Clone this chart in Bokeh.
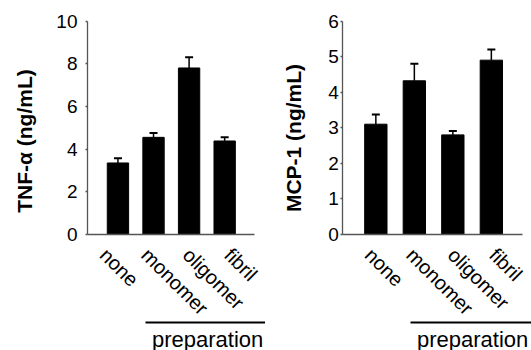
import math
from bokeh.plotting import figure
from bokeh.layouts import row
from bokeh.models import ColumnDataSource, Range1d, LinearAxis, FixedTicker, Whisker, TeeHead
from bokeh.core.properties import value
from bokeh.embed import file_html
from bokeh.resources import INLINE

# ---------------- data ----------------
categories = ["none", "monomer", "oligomer", "fibril"]
tnf_values = [3.35, 4.55, 7.8, 4.38]
tnf_errors = [0.22, 0.20, 0.50, 0.18]
mcp_values = [3.10, 4.32, 2.80, 4.90]
mcp_errors = [0.27, 0.48, 0.11, 0.30]
tnf_ticks = [0, 2, 4, 6, 8, 10]
mcp_ticks = [0, 1, 2, 3, 4, 5, 6]
tnf_title = "TNF-\u03b1 (ng/mL)"
mcp_title = "MCP-1 (ng/mL)"
group_label = "preparation"

# ---------------- layout / style (pixels) ----------------
FONT = "Liberation Sans"
H = 350
AXIS_COLOR = "#555555"

LEFT_LAYOUT = dict(width=265, c0=117.45, step=35.57, zero=234.0, unit=21.35,
                   axis=87.0, axis_end=254.0, bw=0.60, tick_out=2, standoff=8,
                   title_cx=24.0, title_cy=140.5)
RIGHT_LAYOUT = dict(width=266, c0=110.35, step=38.5, zero=234.0, unit=35.58,
                    axis=77.3, axis_end=256.7, bw=0.58, tick_out=2, standoff=2,
                    title_cx=27.5, title_cy=137.5)
LABEL_X0 = 103.0      # px of first category label start
LABEL_STEP = 41.5     # px between category label starts
LABEL_DY = 17.0       # px below axis of label baseline start
BRACKET_X = 145.0
BRACKET_Y = 322.0
GROUP_X = 151.5
GROUP_Y = 338.5


def panel(values, errors, ticks, title, L):
    W = L["width"]
    sx2x = lambda px: (px - L["c0"]) / L["step"]
    sy2y = lambda py: (L["zero"] - py) / L["unit"]

    p = figure(width=W, height=H, output_backend="svg", toolbar_location=None,
               x_range=Range1d(sx2x(0), sx2x(W)), y_range=Range1d(sy2y(H), sy2y(0)),
               x_axis_location=None, y_axis_location=None,
               min_border=0, min_border_left=0, min_border_right=0,
               min_border_top=0, min_border_bottom=0)
    p.outline_line_color = None
    p.xgrid.grid_line_color = None
    p.ygrid.grid_line_color = None
    p.background_fill_color = "white"
    p.border_fill_color = "white"

    # label slot range: category label i starts at LABEL_X0 + i*LABEL_STEP px
    p.extra_x_ranges = {"lbl": Range1d(-LABEL_X0 / LABEL_STEP, (W - LABEL_X0) / LABEL_STEP)}

    idx = list(range(len(categories)))
    src = ColumnDataSource(dict(
        x=idx, top=values, upper=[v + e for v, e in zip(values, errors)], cat=categories))

    # y axis
    yax = LinearAxis(fixed_location=sx2x(L["axis"]), bounds=(ticks[0], ticks[-1]),
                     ticker=FixedTicker(ticks=ticks, minor_ticks=[]))
    yax.axis_line_color = AXIS_COLOR
    yax.axis_line_width = 1.3
    yax.major_tick_line_color = AXIS_COLOR
    yax.major_tick_line_width = 1.3
    yax.major_tick_out = L["tick_out"]
    yax.major_tick_in = 0
    yax.minor_tick_line_color = None
    yax.major_label_standoff = L["standoff"]
    yax.major_label_text_font = FONT
    yax.major_label_text_font_size = "19px"
    yax.major_label_text_color = "black"
    p.add_layout(yax, "left")

    # x axis baseline
    xax = LinearAxis(fixed_location=0, bounds=(sx2x(L["axis"]), sx2x(L["axis_end"])),
                     ticker=FixedTicker(ticks=[], minor_ticks=[]))
    xax.axis_line_color = AXIS_COLOR
    xax.axis_line_width = 1.3
    xax.major_tick_line_color = None
    xax.minor_tick_line_color = None
    xax.major_label_text_color = None
    p.add_layout(xax, "below")

    # bars
    p.vbar(x="x", top="top", bottom=0, width=L["bw"], source=src,
           fill_color="black", line_color="black", line_width=1)

    # error bars (upper only)
    wh = Whisker(base="x", lower="top", upper="upper", source=src, dimension="height",
                 line_color="black", line_width=1.5,
                 upper_head=TeeHead(size=8, line_color="black", line_width=2),
                 lower_head=None)
    p.add_layout(wh)

    # category labels
    p.text(x="x", y=0, text="cat", source=src, x_range_name="lbl",
           angle=-math.pi / 4, y_offset=LABEL_DY,
           text_align="left", text_baseline="alphabetic",
           text_font=value(FONT), text_font_size="20px", text_color="black")

    # group bracket + label
    p.segment(x0=[sx2x(BRACKET_X)], y0=[sy2y(BRACKET_Y)], x1=[sx2x(W + 10)], y1=[sy2y(BRACKET_Y)],
              line_color="black", line_width=2)
    p.text(x=[sx2x(GROUP_X)], y=[sy2y(GROUP_Y)], text=[group_label],
           text_align="left", text_baseline="alphabetic",
           text_font=value(FONT), text_font_size="22px", text_color="black")

    # y-axis title
    p.text(x=[sx2x(L["title_cx"])], y=[sy2y(L["title_cy"])], text=[title],
           angle=math.pi / 2, text_align="center", text_baseline="middle",
           text_font=value(FONT), text_font_size="21px", text_font_style="bold",
           text_color="black")
    return p


p1 = panel(tnf_values, tnf_errors, tnf_ticks, tnf_title, LEFT_LAYOUT)
p2 = panel(mcp_values, mcp_errors, mcp_ticks, mcp_title, RIGHT_LAYOUT)
layout = row(p1, p2, spacing=0)

open("out.html", "w").write(file_html(layout, INLINE))
